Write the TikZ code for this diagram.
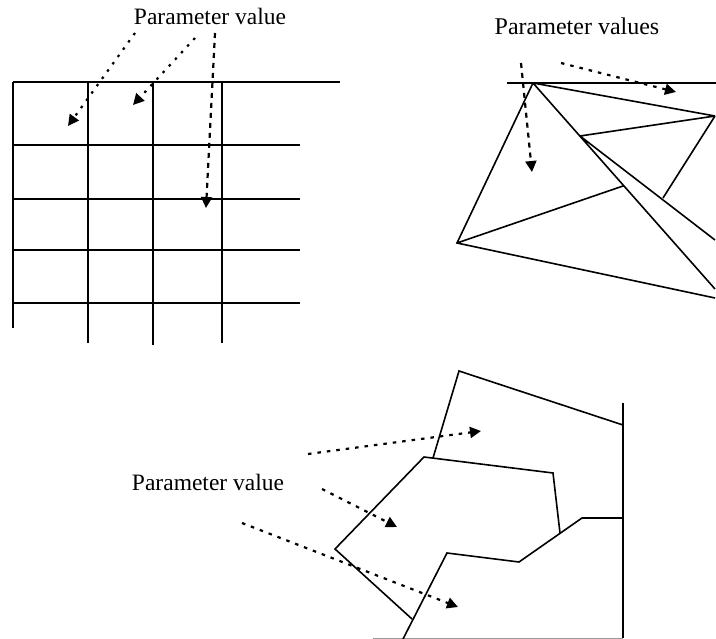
\documentclass[tikz,border=0pt]{standalone}
\usepackage{fontspec}
\setmainfont{Liberation Serif}
\usetikzlibrary{arrows.meta}

\begin{document}
\begin{tikzpicture}[x=1pt,y=-1pt,line width=1.6pt,
  lbl/.style={anchor=base,font=\fontsize{23.5}{28}\selectfont},
  dotarrow/.style={-{Triangle[length=11pt,width=11pt]},line width=2.2pt,dash pattern=on 2.5pt off 6.5pt},
  dasharrow/.style={-{Triangle[length=11pt,width=11pt]},line width=2.2pt,dash pattern=on 5pt off 5pt}]
\useasboundingbox (0,0) rectangle (716,639);
% structured grid
\draw (13,82) -- (340,82);
\foreach \y in {145,199,250,303} \draw (13,\y) -- (300,\y);
\draw (13,82) -- (13,328);
\draw (88,82) -- (88,343);
\draw (153,82) -- (153,345);
\draw (222,82) -- (222,343);
\node[lbl] (gridlbl) at (210,25) {Parameter value};
\coordinate (g1s) at (135,33); \coordinate (g1e) at (68,126);
\coordinate (g2s) at (195,38); \coordinate (g2e) at (133,105);
\coordinate (g3s) at (215,33); \coordinate (g3e) at (206,208);
\draw[dotarrow] (g1s) -- (g1e);
\draw[dotarrow] (g2s) -- (g2e);
\draw[dasharrow] (g3s) -- (g3e);
% triangulation
\coordinate (A) at (533,83);
\coordinate (B) at (715,116);
\coordinate (C) at (457,243);
\coordinate (D) at (715,298);
\coordinate (E) at (580,136);
\coordinate (F) at (623,186);
\coordinate (G) at (663,198);
\coordinate (H) at (715,289);
\coordinate (I) at (715,240);
\draw (507,83) -- (716,83);
\draw (A) -- (B) (A) -- (C) -- (D) (A) -- (H) (E) -- (B) (E) -- (I) (C) -- (F) (B) -- (G);
\node[lbl,font=\fontsize{24}{28}\selectfont] (trilbl) at (577,35) {Parameter values};
\coordinate (t1s) at (521,63); \coordinate (t1e) at (532,172);
\coordinate (t2s) at (561,63); \coordinate (t2e) at (676,92);
\draw[dasharrow] (t1s) -- (t1e);
\draw[dotarrow,dash pattern=on 3.5pt off 6pt] (t2s) -- (t2e);
% polygonal cells
\draw (623,403) -- (623,638);
\draw[line width=0.6pt,black!40] (373,638) -- (623,638);
\draw (433,458) -- (459,371) -- (623,425);
\draw (412,619) -- (335,549) -- (424,457) -- (553,473) -- (560,533);
\draw (403,639) -- (447,553) -- (519,562) -- (582,518) -- (623,518);
\node[lbl] (polylbl) at (208,490) {Parameter value};
\coordinate (p1s) at (308,454); \coordinate (p1e) at (481,431);
\coordinate (p2s) at (322,489); \coordinate (p2e) at (397,527);
\coordinate (p3s) at (242,523); \coordinate (p3e) at (458,607);
\draw[dotarrow,dash pattern=on 3.5pt off 6pt] (p1s) -- (p1e);
\draw[dotarrow,dash pattern=on 3.5pt off 6pt] (p2s) -- (p2e);
\draw[dotarrow,dash pattern=on 3.5pt off 6pt] (p3s) -- (p3e);
\end{tikzpicture}
\end{document}
